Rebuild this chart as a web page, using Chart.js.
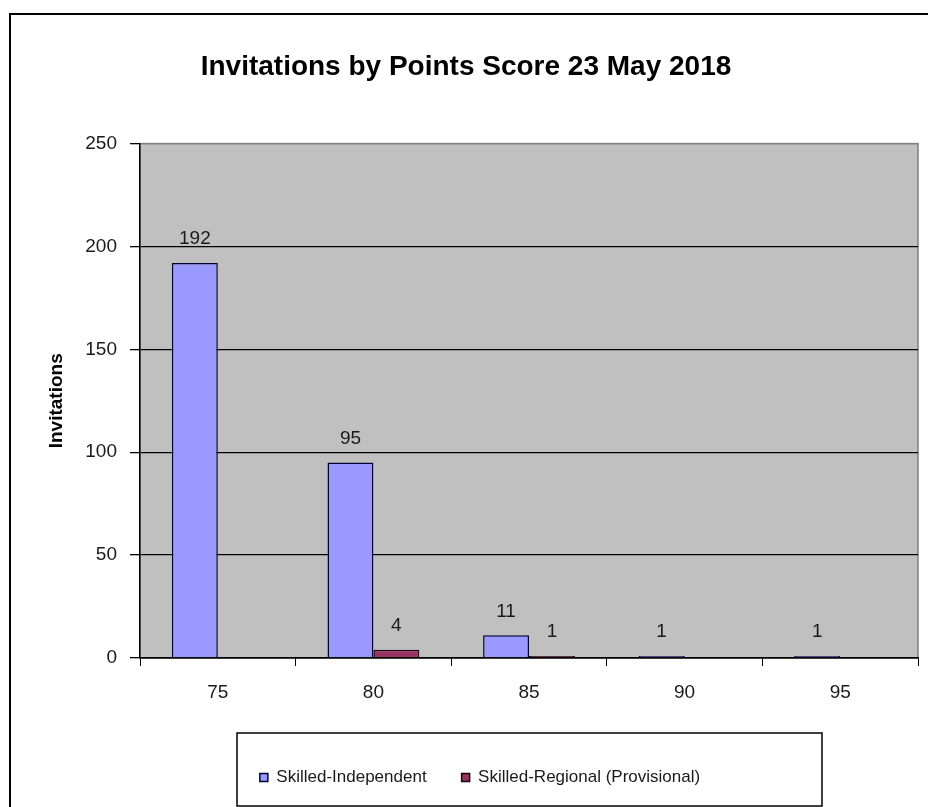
<!DOCTYPE html>
<html>
<head>
<meta charset="utf-8">
<script src="https://cdn.jsdelivr.net/npm/chart.js@4"></script>
<style>
html,body{margin:0;padding:0;background:#fff;}
#wrap{width:928px;height:807px;position:relative;}
</style>
</head>
<body>
<div id="wrap"><canvas id="c" width="928" height="807"></canvas></div>
<script>
const chartTitle = 'Invitations by Points Score 23 May 2018';
const yAxisTitle = 'Invitations';
const categories = ['75', '80', '85', '90', '95'];
const seriesNames = ['Skilled-Independent', 'Skilled-Regional (Provisional)'];
const skilledIndependent = [192, 95, 11, 1, 1];
const skilledRegional = [0, 4, 1, 0, 0];
const yTicks = [0, 50, 100, 150, 200, 250];

const FONT = "'Liberation Sans', Arial, sans-serif";

const frame = {
  id: 'frame',
  afterLayout(chart) {
    const lg = chart.legend;
    if (lg) { lg.left += 14; lg.right += 14; }
  },
  beforeDraw(chart) {
    const ctx = chart.ctx, a = chart.chartArea;
    ctx.save();
    ctx.fillStyle = '#fff';
    ctx.fillRect(0, 0, chart.width, chart.height);
    ctx.strokeStyle = '#000';
    ctx.lineWidth = 2;
    ctx.strokeRect(10, 14, chart.width + 20, chart.height + 20);
    ctx.fillStyle = '#c0c0c0';
    ctx.fillRect(a.left, a.top, a.right - a.left, a.bottom - a.top);
    ctx.strokeStyle = '#808080';
    ctx.lineWidth = 1.5;
    ctx.strokeRect(a.left, a.top, a.right - a.left, a.bottom - a.top);
    ctx.restore();
  },
  afterDraw(chart) {
    const ctx = chart.ctx;
    ctx.save();
    ctx.strokeStyle = '#000';
    ctx.lineWidth = 1.5;
    ctx.strokeRect(237, 733, 585, 73);
    ctx.restore();
  }
};

const valueLabels = {
  id: 'valueLabels',
  afterDatasetsDraw(chart) {
    const ctx = chart.ctx;
    ctx.save();
    ctx.font = '19px ' + FONT;
    ctx.fillStyle = '#1a1a1a';
    ctx.textAlign = 'center';
    ctx.textBaseline = 'middle';
    chart.data.datasets.forEach((ds, di) => {
      const meta = chart.getDatasetMeta(di);
      meta.data.forEach((el, i) => {
        const v = ds.data[i];
        if (v > 0) ctx.fillText(String(v), el.x, el.y - 24);
      });
    });
    ctx.restore();
  }
};

new Chart(document.getElementById('c'), {
  type: 'bar',
  data: {
    labels: categories,
    datasets: [
      {
        label: seriesNames[0],
        data: skilledIndependent,
        backgroundColor: '#9999ff',
        borderColor: '#000033',
        borderWidth: 1.5,
        categoryPercentage: 0.59,
        barPercentage: 1.0
      },
      {
        label: seriesNames[1],
        data: skilledRegional,
        backgroundColor: '#993366',
        borderColor: '#1a0010',
        borderWidth: 1.5,
        categoryPercentage: 0.59,
        barPercentage: 1.0
      }
    ]
  },
  options: {
    responsive: false,
    animation: false,
    devicePixelRatio: 1,
    layout: { padding: { left: 14, right: 10, top: 14, bottom: 11 } },
    plugins: {
      title: {
        display: true,
        text: chartTitle,
        color: '#000',
        font: { family: FONT, size: 28, weight: 'bold' },
        padding: { top: 36, bottom: 60 }
      },
      legend: {
        display: true,
        position: 'bottom',
        labels: {
          color: '#1a1a1a',
          font: { family: FONT, size: 17 },
          boxWidth: 8,
          boxHeight: 8,
          padding: 35
        }
      },
      tooltip: { enabled: false }
    },
    scales: {
      x: {
        grid: {
          display: true,
          drawOnChartArea: false,
          drawTicks: true,
          tickLength: 8,
          tickColor: '#000',
          offset: true
        },
        border: { display: true, color: '#000', width: 1.5 },
        ticks: {
          color: '#1a1a1a',
          font: { family: FONT, size: 19 },
          padding: 15
        },
        afterFit(scale) { scale.height = 76; }
      },
      y: {
        min: 0,
        max: 250,
        afterBuildTicks(scale) { scale.ticks = yTicks.map(v => ({ value: v })); },
        grid: {
          color: (c) => (c.tick && c.tick.value === 250) ? '#808080' : '#000',
          tickColor: '#000',
          tickLength: 10,
          lineWidth: 1.3
        },
        border: { display: true, color: '#000', width: 1.5 },
        ticks: {
          color: '#1a1a1a',
          font: { family: FONT, size: 19 },
          padding: 13
        },
        title: {
          display: true,
          text: yAxisTitle,
          color: '#000',
          font: { family: FONT, size: 19, weight: 'bold' },
          padding: { top: 31, bottom: 0 }
        },
        afterFit(scale) { scale.width = 126; }
      }
    }
  },
  plugins: [frame, valueLabels]
});
</script>
</body>
</html>
